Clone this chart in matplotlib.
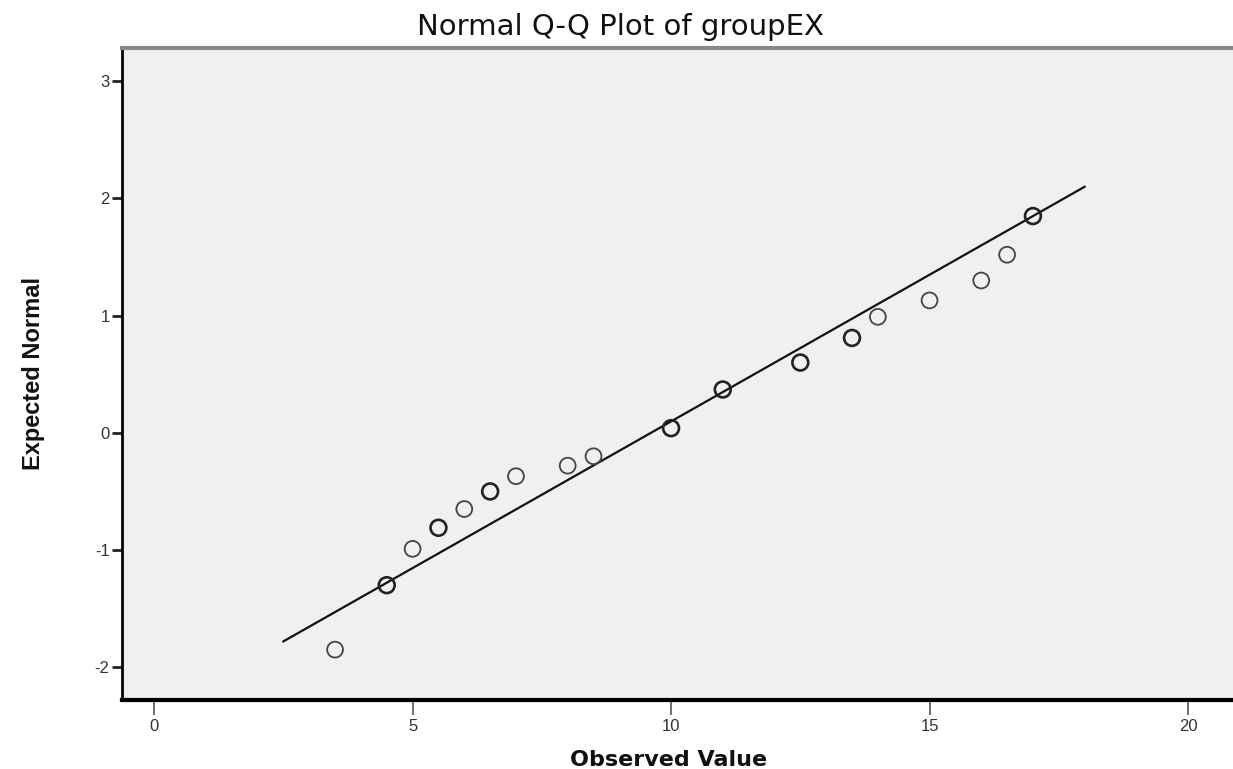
import numpy as np
import matplotlib.pyplot as plt

# ---- DATA ---- #
observed = [3.5, 4.5, 5.0, 5.5, 6.0, 6.5, 7.0, 8.0, 8.5,
            10.0, 11.0, 12.5, 13.5, 14.0, 15.0, 16.0, 16.5, 17.0]
expected = [-1.85, -1.30, -0.99, -0.81, -0.65, -0.50, -0.37, -0.28, -0.20,
            0.04, 0.37, 0.60, 0.81, 0.99, 1.13, 1.30, 1.52, 1.85]
ties = [1, 2, 1, 2, 1, 2, 1, 1, 1, 2, 2, 2, 2, 1, 1, 1, 1, 2]

# reference line y = (x - mean) / sd
mean_val = 9.61
sd_val = 3.995
line_x = [2.5, 18.0]

xticks = [0, 5, 10, 15, 20]
yticks = [-2, -1, 0, 1, 2, 3]

ttl = 'Normal Q-Q Plot of groupEX'
xlbl = 'Observed Value'
ylbl = 'Expected Normal'

plt.rcParams['font.family'] = ['Liberation Sans', 'DejaVu Sans']
plt.rcParams['axes.unicode_minus'] = False

# ---- PLOTTING ---- #
fig = plt.figure(figsize=(12.33, 7.69), dpi=100)
ax = fig.add_axes([0.099, 0.0897, 0.901, 0.848])
ax.set_facecolor('#f0f0f0')

# ---- LINE ---- #
lx = np.array(line_x)
ly = (lx - mean_val) / sd_val
ax.plot(lx, ly, color='#111111', linewidth=1.6, zorder=2)

# ---- POINTS ---- #
for x, y, n in zip(observed, expected, ties):
    ec = '#222222' if n > 1 else '#444444'
    lw = 1.9 if n > 1 else 1.3
    ax.scatter(x, y, s=130, facecolors='none', edgecolors=ec,
               linewidths=lw, zorder=3)

# ---- AXIS ---- #
ax.set_xlim(-0.62, 20.87)
ax.set_ylim(-2.28, 3.285)
ax.set_xticks(xticks)
ax.set_yticks(yticks)
ax.tick_params(axis='y', direction='out', length=7, width=2, color='#222222',
               labelsize=12, labelcolor='#333333', pad=2)
ax.tick_params(axis='x', direction='out', length=11, width=1.2,
               color='#555555', labelsize=12, labelcolor='#333333', pad=3)

ax.spines['right'].set_visible(False)
ax.spines['left'].set_linewidth(2)
ax.spines['bottom'].set_linewidth(3)
ax.spines['top'].set_color('#888888')
ax.spines['top'].set_linewidth(3)

# ---- LABELS ---- #
fig.text(0.503, 1 - 35 / 769, ttl, ha='center', va='baseline', fontsize=21,
         family=['DejaVu Sans'], color='#111111')
fig.text(0.542, 1 - 766 / 769, xlbl, ha='center', va='baseline',
         fontsize=16, fontweight='bold', family=['DejaVu Sans'],
         color='#111111')
ax.set_ylabel(ylbl, fontsize=17, fontweight='bold', labelpad=36,
              color='#111111')

fig.savefig('out.png', dpi=100)
